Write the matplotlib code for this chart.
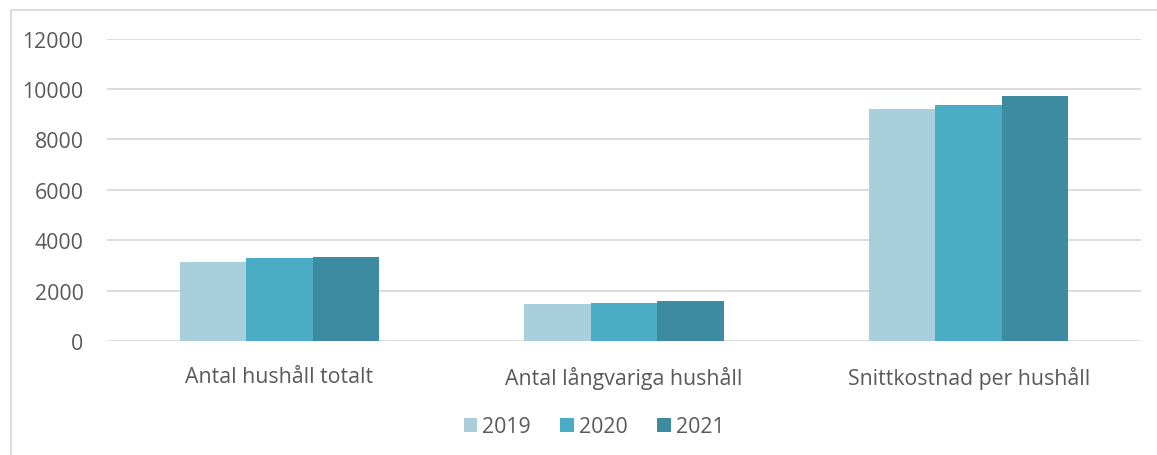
import matplotlib
matplotlib.use('Agg')
import matplotlib.pyplot as plt
import numpy as np
from matplotlib.patches import Rectangle

categories = ['Antal hushåll totalt', 'Antal långvariga hushåll', 'Snittkostnad per hushåll']
years = ['2019', '2020', '2021']
values_2019 = [3150, 1470, 9200]
values_2020 = [3300, 1510, 9360]
values_2021 = [3340, 1590, 9710]
colors = ['#A9CEDC', '#4BACC6', '#3C8BA1']

plt.rcParams['font.family'] = ['Open Sans', 'DejaVu Sans']
textcol = '#595959'
gridcol = '#D9D9D9'
fs = 15.3

fig = plt.figure(figsize=(11.57, 4.56), dpi=100)
ax = fig.add_axes([107/1157, 1-342/456, (1141-107)/1157, (342-39.5)/456])

# light border round the chart area
fig.patches.append(Rectangle((11/1157, -0.1), 1.2, 1-11/456+0.1, transform=fig.transFigure,
                             fill=False, edgecolor='#D9D9D9', linewidth=1.3))

x = np.arange(len(categories))
width = 0.193
series = [values_2019, values_2020, values_2021]
for i, (vals, col, yr) in enumerate(zip(series, colors, years)):
    ax.bar(x + (i-1)*width, vals, width, color=col, label=yr, zorder=3)

ax.set_xlim(-0.5, 2.5)
ax.set_ylim(0, 12000)
ax.set_yticks(np.arange(0, 12001, 2000))
ax.yaxis.grid(color=gridcol, linewidth=1.3, zorder=0)
for s in ax.spines.values():
    s.set_visible(False)
ax.tick_params(axis='y', length=0, pad=17, labelsize=fs, labelcolor=textcol)
ax.tick_params(axis='x', length=0, pad=18, labelsize=fs, labelcolor=textcol)
ax.set_xticks(x)
ax.set_xticklabels(categories)

leg = ax.legend(loc='center', bbox_to_anchor=(0.471, (428-342)/-302.5), ncol=3, frameon=False,
                fontsize=fs, handlelength=0.62, handleheight=0.62, handletextpad=0.25,
                columnspacing=1.4, labelcolor=textcol)

fig.savefig('out.png', dpi=100)
